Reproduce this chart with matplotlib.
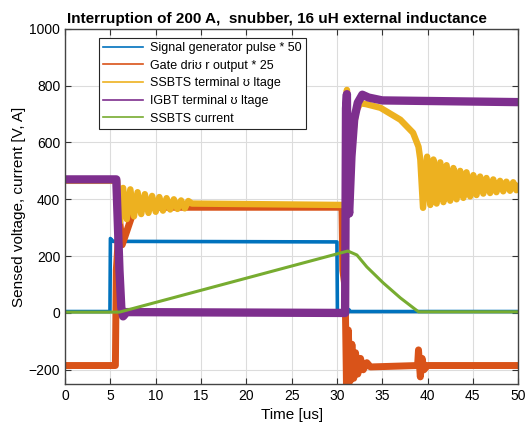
import matplotlib.pyplot as plt

plt.rcParams['font.family'] = ['Liberation Sans', 'DejaVu Sans']

# Signal generator pulse * 50
sig_t = [0, 4.95, 5.0, 5.3, 30.0, 30.05, 31.0, 31.1, 31.3, 31.5, 50]
sig_v = [5, 5, 262, 252, 250, 5, 5, -8, 12, 5, 5]

# Gate driver output * 25
gate_t = [0, 5.55, 5.65, 6.0, 6.3, 7.7, 30.55, 30.65, 30.9, 31.05, 31.25, 31.45,
          31.65, 31.85, 32.05, 32.3, 32.6, 32.9, 33.3, 33.7, 38.9, 39.0, 39.2,
          39.4, 39.6, 40.0, 50]
gate_v = [-185, -185, 150, 330, 240, 372, 372, 150, 90, -250, -60, -240,
          -110, -230, -140, -215, -160, -200, -175, -190, -185, -130, -225,
          -160, -200, -185, -185]

# SSBTS terminal voltage
ssb_t = [0, 5.75, 6.05, 6.4, 6.8, 7.2, 7.6, 8.0, 8.4, 8.8, 9.2, 9.6, 10.0, 10.4,
         10.8, 11.2, 11.6, 12.0, 12.4, 12.8, 13.2, 13.6, 14.0, 30.9, 31.1, 31.2,
         31.35, 31.7, 32.1, 32.6, 33.2, 34.8, 37.0, 38.4, 39.0, 39.2,
         39.5, 39.95, 40.3, 40.65, 41.0, 41.4, 41.75, 42.1, 42.5, 42.85, 43.2, 43.6,
         43.95, 44.3, 44.7, 45.05, 45.4, 45.8, 46.15, 46.5, 46.9, 47.25, 47.6, 48.0,
         48.35, 48.7, 49.1, 49.45, 49.8, 50]
ssb_v = [465, 465, 320, 440, 330, 435, 340, 425, 348, 418, 352, 412, 356, 408,
         360, 404, 364, 400, 366, 396, 368, 394, 385, 380, 785, 500,
         360, 610, 710, 738, 735, 722, 680, 634, 585, 540,
         370, 550, 380, 540, 385, 530, 390, 520, 395, 510, 400, 500,
         405, 495, 410, 485, 415, 480, 420, 475, 422, 470, 425, 465,
         428, 462, 430, 460, 432, 445]

# IGBT terminal voltage
igbt_t = [0, 5.65, 6.0, 6.2, 6.4, 6.8, 30.9, 31.0, 31.1, 31.2, 31.35, 31.6,
          31.9, 32.3, 32.8, 33.5, 35, 50]
igbt_v = [470, 470, 150, 20, -12, 3, 0, 720, 770, 400, 350, 550,
          680, 740, 768, 758, 748, 742]

# SSBTS current
cur_t = [0, 6.0, 31.2, 32.2, 33.3, 35.1, 37.0, 39.0, 50]
cur_v = [3, 3, 218, 204, 162, 106, 53, 4, 4]

fig = plt.figure(figsize=(5.25, 4.3), dpi=100)
ax = fig.add_axes([0.124, 0.107, 0.863, 0.826])

ax.plot(sig_t, sig_v, color='#0072BD', lw=2.6, label='Signal generator pulse * 50')
ax.plot(gate_t, gate_v, color='#D95319', lw=5.0, label='Gate driʊ r output * 25')
ax.plot(ssb_t, ssb_v, color='#EDB120', lw=4.6, label='SSBTS terminal ʊ ltage')
ax.plot(igbt_t, igbt_v, color='#7E2F8E', lw=6.0, label='IGBT terminal ʊ ltage')
ax.plot(cur_t, cur_v, color='#77AC30', lw=2.2, label='SSBTS current')

ax.set_xlim(0, 50)
ax.set_ylim(-250, 1000)
ax.set_xticks(range(0, 51, 5))
ax.set_yticks(range(-200, 1001, 200))
ax.grid(True, color='#dcdcdc', lw=0.8)
ax.set_axisbelow(True)
ax.tick_params(direction='in', top=True, right=True, labelsize=10, length=4,
               color='#333333')
for s in ax.spines.values():
    s.set_color('#444444')
    s.set_linewidth(1.0)

ax.set_xlabel('Time [us]', fontsize=11)
ax.set_ylabel('Sensed voltage, current [V, A]', fontsize=11, labelpad=2)
ax.set_title('Interruption of 200 A,  snubber, 16 uH external inductance',
             fontsize=11, fontweight='bold', pad=4, x=0.468)

leg = ax.legend(loc='upper left', bbox_to_anchor=(0.075, 0.975), borderaxespad=0,
                fontsize=9, handlelength=3.2, labelspacing=0.45, fancybox=False,
                framealpha=1, edgecolor='#262626', borderpad=0.35, handletextpad=0.5)
leg.get_frame().set_linewidth(0.8)
for h in leg.get_lines():
    h.set_linewidth(1.2)

fig.savefig('out.png', dpi=100)
